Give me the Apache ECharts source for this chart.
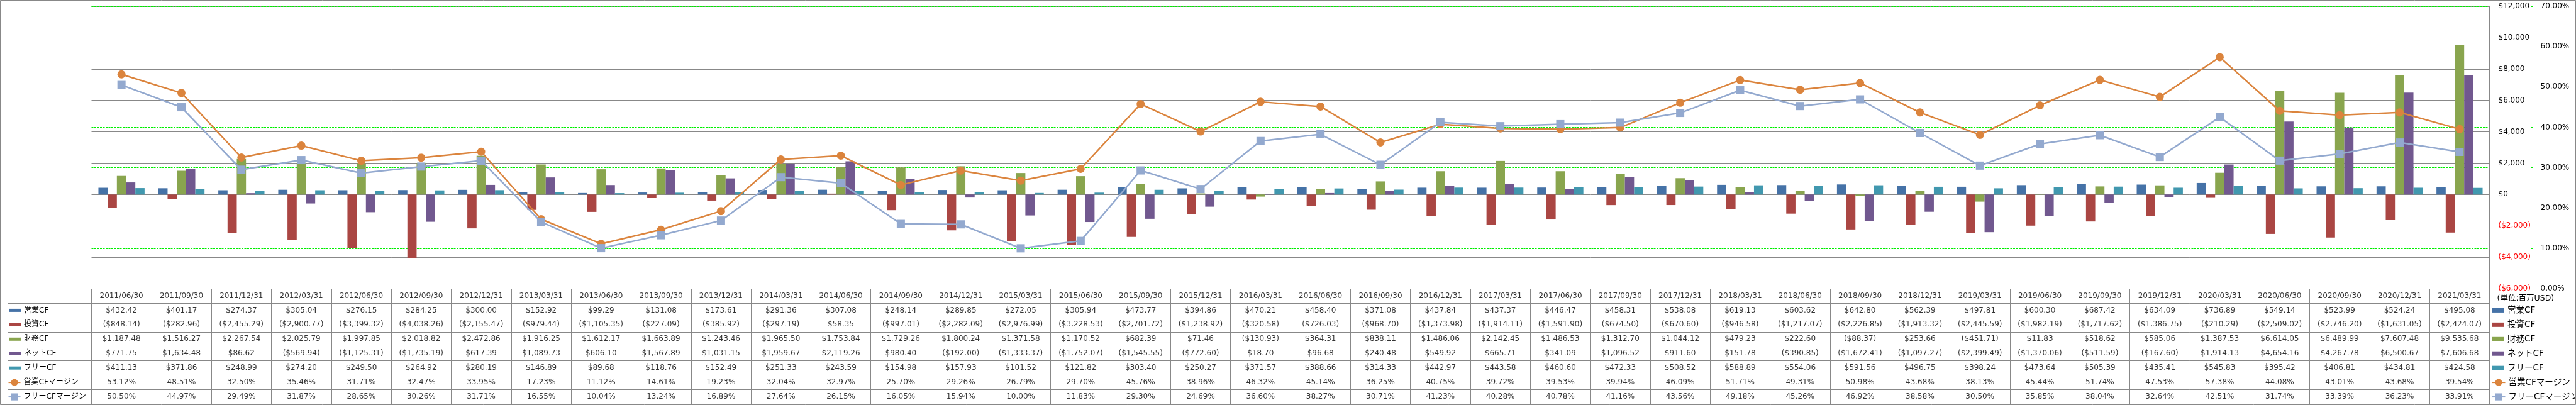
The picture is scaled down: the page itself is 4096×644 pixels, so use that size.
<!DOCTYPE html>
<html><head><meta charset="utf-8">
<script src="https://cdn.jsdelivr.net/npm/echarts@6/dist/echarts.min.js"></script>
<style>html,body{margin:0;padding:0;background:#fff}#c{width:4096px;height:644px}</style>
</head><body><div id="c"></div>
<script>
// ---------- DATA ----------
const categories = ['2011/06/30','2011/09/30','2011/12/31','2012/03/31','2012/06/30','2012/09/30','2012/12/31','2013/03/31','2013/06/30','2013/09/30','2013/12/31','2014/03/31','2014/06/30','2014/09/30','2014/12/31','2015/03/31','2015/06/30','2015/09/30','2015/12/31','2016/03/31','2016/06/30','2016/09/30','2016/12/31','2017/03/31','2017/06/30','2017/09/30','2017/12/31','2018/03/31','2018/06/30','2018/09/30','2018/12/31','2019/03/31','2019/06/30','2019/09/30','2019/12/31','2020/03/31','2020/06/30','2020/09/30','2020/12/31','2021/03/31'];
const seriesNames = ['営業CF','投資CF','財務CF','ネットCF','フリーCF','営業CFマージン','フリーCFマージン'];
const opCF = [432.42,401.17,274.37,305.04,276.15,284.25,300.00,152.92,99.29,131.08,173.61,291.36,307.08,248.14,289.85,272.05,305.94,473.77,394.86,470.21,458.40,371.08,437.84,437.37,446.47,458.31,538.08,619.13,603.62,642.80,562.39,497.81,600.30,687.42,634.09,736.89,549.14,523.99,524.24,495.08];
const invCF = [-848.14,-282.96,-2455.29,-2900.77,-3399.32,-4038.26,-2155.47,-979.44,-1105.35,-227.09,-385.92,-297.19,58.35,-997.01,-2282.09,-2976.99,-3228.53,-2701.72,-1238.92,-320.58,-726.03,-968.70,-1373.98,-1914.11,-1591.90,-674.50,-670.60,-946.58,-1217.07,-2226.85,-1913.32,-2445.59,-1982.19,-1717.62,-1386.75,-210.29,-2509.02,-2746.20,-1631.05,-2424.07];
const finCF = [1187.48,1516.27,2267.54,2025.79,1997.85,2018.82,2472.86,1916.25,1612.17,1663.89,1243.46,1965.50,1753.84,1729.26,1800.24,1371.58,1170.52,682.39,71.46,-130.93,364.31,838.11,1486.06,2142.45,1486.53,1312.70,1044.12,479.23,222.60,-88.37,253.66,-451.71,11.83,518.62,585.06,1387.53,6614.05,6489.99,7607.48,9535.68];
const netCF = [771.75,1634.48,86.62,-569.94,-1125.31,-1735.19,617.39,1089.73,606.10,1567.89,1031.15,1959.67,2119.26,980.40,-192.00,-1333.37,-1752.07,-1545.55,-772.60,18.70,96.68,240.48,549.92,665.71,341.09,1096.52,911.60,151.78,-390.85,-1672.41,-1097.27,-2399.49,-1370.06,-511.59,-167.60,1914.13,4654.16,4267.78,6500.67,7606.68];
const freeCF = [411.13,371.86,248.99,274.20,249.50,264.92,280.19,146.89,89.68,118.76,152.49,251.33,243.59,154.98,157.93,101.52,121.82,303.40,250.27,371.57,388.66,314.33,442.97,443.58,460.60,472.33,508.52,588.89,554.06,591.56,496.75,398.24,473.64,505.39,435.41,545.83,395.42,406.81,434.81,424.58];
const opMargin = [53.12,48.51,32.50,35.46,31.71,32.47,33.95,17.23,11.12,14.61,19.23,32.04,32.97,25.70,29.26,26.79,29.70,45.76,38.96,46.32,45.14,36.25,40.75,39.72,39.53,39.94,46.09,51.71,49.31,50.98,43.68,38.13,45.44,51.74,47.53,57.38,44.08,43.01,43.68,39.54];
const freeMargin = [50.50,44.97,29.49,31.87,28.65,30.26,31.71,16.55,10.04,13.24,16.89,27.64,26.15,16.05,15.94,10.00,11.83,29.30,24.69,36.60,38.27,30.71,41.23,40.28,40.78,41.16,43.56,49.18,45.26,46.92,38.58,30.50,35.85,38.04,32.64,42.51,31.74,33.39,36.23,33.91];
const dollarAxis = {min: -6000, max: 12000, interval: 2000};
const pctAxis = {min: 0, max: 70, interval: 10};
const unitLabel = '(単位:百万USD)';

// ---------- STYLE / LAYOUT ----------
const S = 0.75;
const FONT = "'DejaVu Sans','Noto Sans CJK JP',sans-serif";
const GRIDC = '#888888';
const GREEN = '#00ee00';
const colors = ['#4572A7','#AA4643','#89A54E','#71588F','#4198AF','#DB843D','#93A9CF'];
const plotL = 194*S, plotR = 5278*S, plotT = 13.3*S, tableT = 612*S, tableB = 856.7*S;
const rowH = (tableB - tableT) / 8;
const rowC = k => tableT + (k + 0.5) * rowH;

function money(v) {
  const s = '$' + Math.abs(v).toLocaleString('en-US', {minimumFractionDigits: 2, maximumFractionDigits: 2});
  return v < 0 ? '(' + s + ')' : s;
}
function pct(v) { return v.toFixed(2) + '%'; }
const rowsData = [opCF, invCF, finCF, netCF, freeCF, opMargin, freeMargin];
const rowFmt = [money, money, money, money, money, pct, pct];

const cells = [];
categories.forEach((c, i) => {
  cells.push({name: c, value: [i, 0]});
  rowsData.forEach((arr, r) => cells.push({name: rowFmt[r](arr[i]), value: [i, r + 1]}));
});

const chart = echarts.init(document.getElementById('c'), null, {renderer: 'canvas'});
const txt = {fontSize: 12, fontFamily: FONT, color: '#000'};
const hidden = {axisLine: {show: false}, axisTick: {show: false}, axisLabel: {show: false}};
const gl = {color: GRIDC, width: 1};

const series = [];
for (let k = 0; k < 5; k++) {
  series.push({type: 'bar', name: seriesNames[k], data: rowsData[k], xAxisIndex: 0, yAxisIndex: 0,
    barGap: '0%', barCategoryGap: '23%', itemStyle: {color: colors[k]}});
}
series.push({type: 'line', name: seriesNames[5], data: opMargin, xAxisIndex: 0, yAxisIndex: 1,
  symbol: 'circle', symbolSize: 13, lineStyle: {width: 2.5, color: colors[5]}, itemStyle: {color: colors[5]}, z: 5});
series.push({type: 'line', name: seriesNames[6], data: freeMargin, xAxisIndex: 0, yAxisIndex: 1,
  symbol: 'rect', symbolSize: 13, lineStyle: {width: 2.5, color: colors[6]}, itemStyle: {color: colors[6]}, z: 5});
series.push({type: 'scatter', name: 'table', data: cells, xAxisIndex: 1, yAxisIndex: 2, symbolSize: 1,
  itemStyle: {color: 'rgba(0,0,0,0)'}, silent: true,
  label: Object.assign({show: true, position: 'inside', formatter: '{b}'}, txt)});

const legendText = Object.assign({lineHeight: 14}, txt);
const legendText2 = Object.assign({}, legendText, {fontSize: 13.5});

chart.setOption({
  animation: false,
  backgroundColor: '#fff',
  title: {text: unitLabel, left: 5294*S, top: 633*S - 7, padding: 0,
    textStyle: {fontSize: 12.5, fontWeight: 'normal', fontFamily: FONT, color: '#000', lineHeight: 14}},
  legend: [
    {data: seriesNames.slice(0, 5), orient: 'vertical', left: 15, top: rowC(1) - 7, itemWidth: 18, itemHeight: 5,
      itemGap: rowH - 14, icon: 'rect', padding: 0, selectedMode: false, textStyle: legendText},
    {data: seriesNames.slice(5), orient: 'vertical', left: 12.5, top: rowC(6) - 7, itemWidth: 19, itemHeight: 14,
      itemGap: rowH - 14, padding: 0, selectedMode: false, textStyle: legendText},
    {data: seriesNames.slice(0, 5), orient: 'vertical', left: 5284*S, top: rowC(1) - 7, itemWidth: 19, itemHeight: 7,
      itemGap: rowH - 14, icon: 'rect', padding: 0, selectedMode: false, textStyle: legendText2},
    {data: seriesNames.slice(5), orient: 'vertical', left: 5282*S, top: rowC(6) - 7, itemWidth: 21, itemHeight: 14,
      itemGap: rowH - 14, padding: 0, selectedMode: false, textStyle: legendText2}
  ],
  grid: [
    {left: plotL, top: plotT, width: plotR - plotL, height: tableT - plotT},
    {left: plotL, top: tableT, width: plotR - plotL, height: tableB - tableT},
    {left: 16*S, top: tableT + rowH, width: plotL - 16*S, height: rowH * 7}
  ],
  xAxis: [
    Object.assign({gridIndex: 0, type: 'category', data: categories, splitLine: {show: false}}, hidden),
    Object.assign({gridIndex: 1, type: 'category', data: categories,
      splitLine: {show: true, interval: 0, lineStyle: gl}}, hidden),
    {gridIndex: 2, type: 'value', min: 0, max: 1, show: false}
  ],
  yAxis: [
    {gridIndex: 0, type: 'value', position: 'right', min: dollarAxis.min, max: dollarAxis.max, interval: dollarAxis.interval,
      axisLine: {show: true, lineStyle: gl}, axisTick: {show: false},
      axisLabel: Object.assign({margin: 14, formatter: v => v < 0 ? '{n|($' + Math.abs(v).toLocaleString('en-US') + ')}' : '$' + v.toLocaleString('en-US'),
        rich: {n: {color: '#ff0000', fontSize: 12, fontFamily: FONT}}}, txt),
      splitLine: {show: true, lineStyle: gl}},
    {gridIndex: 0, type: 'value', position: 'right', offset: 66, min: pctAxis.min, max: pctAxis.max, interval: pctAxis.interval,
      axisLine: {show: true, lineStyle: {color: GREEN, width: 1, type: [3, 1.5]}},
      axisTick: {show: true, length: 3, lineStyle: {color: GREEN, width: 1}},
      axisLabel: Object.assign({margin: 15, formatter: v => v.toFixed(2) + '%'}, txt),
      splitLine: {show: true, lineStyle: {color: GREEN, width: 1, type: [3, 1.5]}}},
    Object.assign({gridIndex: 1, type: 'category', data: [''].concat(seriesNames), inverse: true,
      splitLine: {show: true, interval: 0, lineStyle: gl}}, hidden),
    Object.assign({gridIndex: 2, type: 'category', data: seriesNames, inverse: true,
      splitLine: {show: true, interval: 0, lineStyle: gl}}, hidden, {axisLine: {show: true, lineStyle: gl}})
  ],
  series: series,
  graphic: [{type: 'rect', shape: {x: 0.5, y: 0.5, width: 4095, height: 643}, style: {fill: null, stroke: GRIDC, lineWidth: 1}, silent: true, z: 100}]
});
</script>
</body></html>
